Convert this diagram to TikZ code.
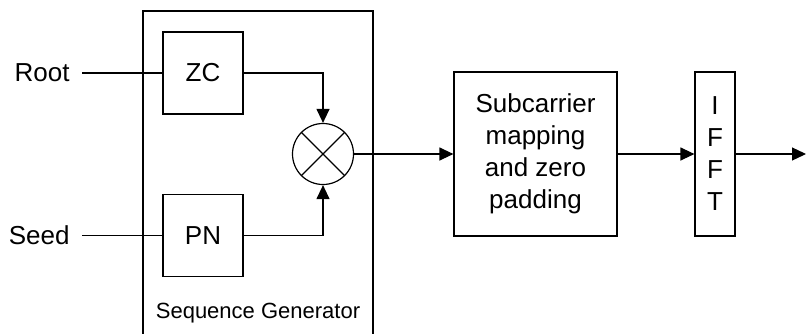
\documentclass[tikz,border=0pt]{standalone}
\usepackage{fontspec}
\setmainfont{Liberation Sans}
\usetikzlibrary{positioning, arrows.meta, calc}
\begin{document}
\begin{tikzpicture}[x=0.5pt, y=-0.5pt]
	\tikzset{
		block/.style={rectangle, draw, line width=0.6pt, align=center, inner sep=0pt, font=\fontsize{13}{16}\selectfont},
		label text/.style={inner sep=6pt, font=\fontsize{13}{16}\selectfont},
		flow/.style={line width=0.6pt, -{Triangle[length=7pt, width=6.5pt]}},
		wire/.style={line width=0.6pt}
	}
	\useasboundingbox (0,0) rectangle (806,333);
	\draw[wire] (143,345) -- (143,11) -- (373,11) -- (373,345);
	\node[font=\fontsize{11}{14}\selectfont] (seqlabel) at (258,313) {Sequence Generator};
	\node[block, minimum width=40pt, minimum height=41pt] (zc) at (203,73) {ZC};
	\node[block, minimum width=40pt, minimum height=41pt] (pn) at (203,235.5) {PN};
	\node[label text, anchor=east] (root) at (82,73) {Root};
	\node[label text, anchor=east] (seed) at (82,235.5) {Seed};
	\node[circle, draw, line width=0.6pt, minimum size=30.5pt, inner sep=0pt] (mul) at (323,154) {};
	\draw[wire] (mul.north west) -- (mul.south east);
	\draw[wire] (mul.north east) -- (mul.south west);
	\node[block, minimum width=81.5pt, minimum height=82pt] (sub) at (535.5,154) {Subcarrier\\mapping\\and zero\\padding};
	\node[block, minimum width=20pt, minimum height=82pt] (ifft) at (715,154) {I\\F\\F\\T};
	\coordinate (out) at (806,154);
	\draw[wire] (root) -- (zc);
	\draw[wire] (seed) -- (pn);
	\draw[flow] (zc.east) -| (mul.north);
	\draw[flow] (pn.east) -| (mul.south);
	\draw[flow] (mul) -- (sub);
	\draw[flow] (sub) -- (ifft);
	\draw[flow] (ifft) -- (out);
\end{tikzpicture}
\end{document}
